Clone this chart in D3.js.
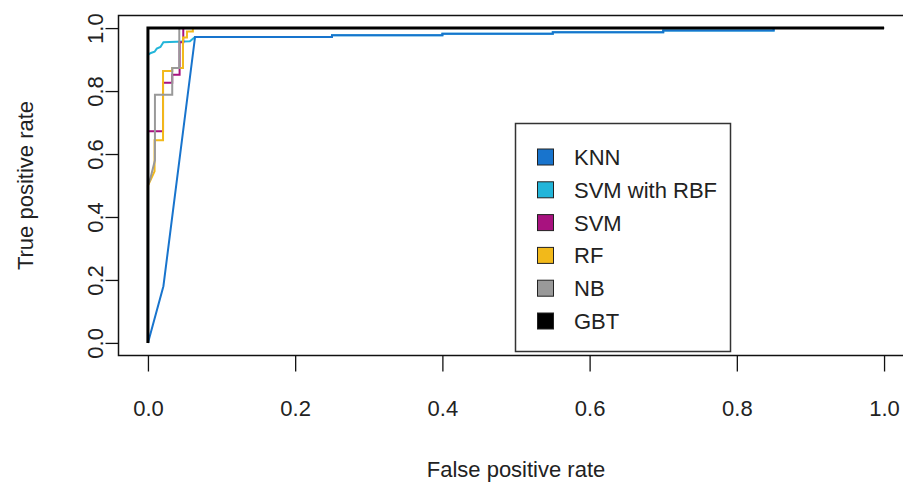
<!DOCTYPE html>
<html>
<head>
<meta charset="utf-8">
<script src="https://cdn.jsdelivr.net/npm/d3@7"></script>
<style>
  html, body { margin: 0; padding: 0; background: #fff; }
  svg { display: block; }
  text { font-family: "Liberation Sans", Arial, sans-serif; fill: #222; }
</style>
</head>
<body>
<svg id="chart" width="903" height="490"></svg>
<script>
// ---- data ----
const seriesNames = ["KNN", "SVM with RBF", "SVM", "RF", "NB", "GBT"];
const seriesColors = ["#1874CD", "#22B5D9", "#A8127F", "#F2B91A", "#999999", "#000000"];

const knnFpr = [0, 0.021, 0.064, 0.25, 0.25, 0.40, 0.40, 0.55, 0.55, 0.70, 0.70, 0.85, 0.85, 1];
const knnTpr = [0, 0.18, 0.972, 0.972, 0.977, 0.977, 0.982, 0.982, 0.987, 0.987, 0.992, 0.992, 1, 1];

const rbfFpr = [0, 0, 0.004, 0.009, 0.012, 0.017, 0.021, 0.057, 0.064, 0.25, 0.25, 0.40, 0.40, 0.55, 0.55, 0.70, 0.70, 0.85, 0.85, 1];
const rbfTpr = [0, 0.915, 0.921, 0.925, 0.935, 0.94, 0.955, 0.958, 0.972, 0.972, 0.977, 0.977, 0.982, 0.982, 0.987, 0.987, 0.992, 0.992, 1, 1];

const svmFpr = [0, 0, 0.0205, 0.0205, 0.033, 0.033, 0.043, 0.043, 0.048, 0.048, 1];
const svmTpr = [0, 0.672, 0.672, 0.826, 0.826, 0.852, 0.852, 0.955, 0.955, 1, 1];

const rfFpr = [0, 0, 0.004, 0.009, 0.009, 0.0205, 0.0205, 0.033, 0.033, 0.0476, 0.0476, 0.053, 0.053, 0.061, 0.061, 1];
const rfTpr = [0, 0.5, 0.52, 0.545, 0.644, 0.644, 0.864, 0.864, 0.873, 0.873, 0.97, 0.97, 0.989, 0.989, 1, 1];

const nbFpr = [0, 0, 0.003, 0.0095, 0.0095, 0.033, 0.033, 0.0426, 0.0426, 1];
const nbTpr = [0, 0.5, 0.52, 0.58, 0.788, 0.788, 0.873, 0.873, 1, 1];

const gbtFpr = [0, 0, 1];
const gbtTpr = [0, 1, 1];

const xTicks = [0, 0.2, 0.4, 0.6, 0.8, 1.0];
const yTicks = [0, 0.2, 0.4, 0.6, 0.8, 1.0];
const xTitle = "False positive rate";
const yTitle = "True positive rate";

// ---- drawing ----
const svg = d3.select("#chart");
const W = 903, H = 490;
svg.append("rect").attr("width", W).attr("height", H).attr("fill", "#fff");

const x = d3.scaleLinear().domain([-0.04, 1.04]).range([118.5, 913.5]);
const y = d3.scaleLinear().domain([-0.04, 1.04]).range([355.5, 15.5]);

const series = [
  { name: "SVM with RBF", fpr: rbfFpr, tpr: rbfTpr, color: seriesColors[1], w: 2 },
  { name: "KNN", fpr: knnFpr, tpr: knnTpr, color: seriesColors[0], w: 2 },
  { name: "SVM", fpr: svmFpr, tpr: svmTpr, color: seriesColors[2], w: 2 },
  { name: "RF", fpr: rfFpr, tpr: rfTpr, color: seriesColors[3], w: 2 },
  { name: "NB", fpr: nbFpr, tpr: nbTpr, color: seriesColors[4], w: 2 },
  { name: "GBT", fpr: gbtFpr, tpr: gbtTpr, color: seriesColors[5], w: 3 }
];

const line = d3.line().x(d => x(d[0])).y(d => y(d[1]));

const plot = svg.append("g");
series.forEach(s => {
  const pts = s.fpr.map((f, i) => [f, s.tpr[i]]);
  plot.append("path")
    .datum(pts)
    .attr("d", line)
    .attr("fill", "none")
    .attr("stroke", s.color)
    .attr("stroke-width", s.w)
    .attr("stroke-linejoin", "miter");
});

// frame
svg.append("rect")
  .attr("x", x.range()[0]).attr("y", y.range()[1])
  .attr("width", x.range()[1] - x.range()[0])
  .attr("height", y.range()[0] - y.range()[1])
  .attr("fill", "none").attr("stroke", "#111").attr("stroke-width", 1.5);

// x axis
const xAxis = svg.append("g")
  .attr("transform", `translate(0,${y.range()[0]})`)
  .call(d3.axisBottom(x).tickValues(xTicks).tickSize(16).tickPadding(29)
        .tickFormat(d3.format(".1f")));
xAxis.select(".domain").remove();
xAxis.selectAll(".tick line").attr("stroke", "#111").attr("stroke-width", 1.3);
xAxis.selectAll(".tick text")
  .attr("font-size", 22)
  .attr("font-family", '"Liberation Sans", Arial, sans-serif')
  .attr("fill", "#222");

// y axis
const yAxis = svg.append("g")
  .attr("transform", `translate(${x.range()[0]},0)`)
  .call(d3.axisLeft(y).tickValues(yTicks).tickSize(13).tickFormat(d3.format(".1f")));
yAxis.select(".domain").remove();
yAxis.selectAll(".tick line").attr("stroke", "#111").attr("stroke-width", 1.3);
yAxis.selectAll(".tick text")
  .attr("x", null).attr("dy", null)
  .attr("text-anchor", "middle")
  .attr("transform", "translate(-16,0) rotate(-90)")
  .attr("font-size", 22)
  .attr("font-family", '"Liberation Sans", Arial, sans-serif')
  .attr("fill", "#222");

// axis titles
svg.append("text")
  .attr("x", (x.range()[0] + x.range()[1]) / 2)
  .attr("y", 477)
  .attr("text-anchor", "middle")
  .attr("font-size", 22)
  .text(xTitle);

svg.append("text")
  .attr("transform", `translate(33,${(y.range()[0] + y.range()[1]) / 2}) rotate(-90)`)
  .attr("text-anchor", "middle")
  .attr("font-size", 22)
  .text(yTitle);

// legend
const legend = svg.append("g");
legend.append("rect")
  .attr("x", 515.5).attr("y", 123.5).attr("width", 215).attr("height", 228)
  .attr("fill", "#fff").attr("stroke", "#333").attr("stroke-width", 1.5);

seriesNames.forEach((name, i) => {
  const cy = 157 + i * 32.8;
  legend.append("rect")
    .attr("x", 537.5).attr("y", cy - 8).attr("width", 16).attr("height", 16)
    .attr("fill", seriesColors[i]).attr("stroke", "#222").attr("stroke-width", 1);
  legend.append("text")
    .attr("x", 574).attr("y", cy + 8)
    .attr("font-size", 22)
    .text(name);
});
</script>
</body>
</html>
